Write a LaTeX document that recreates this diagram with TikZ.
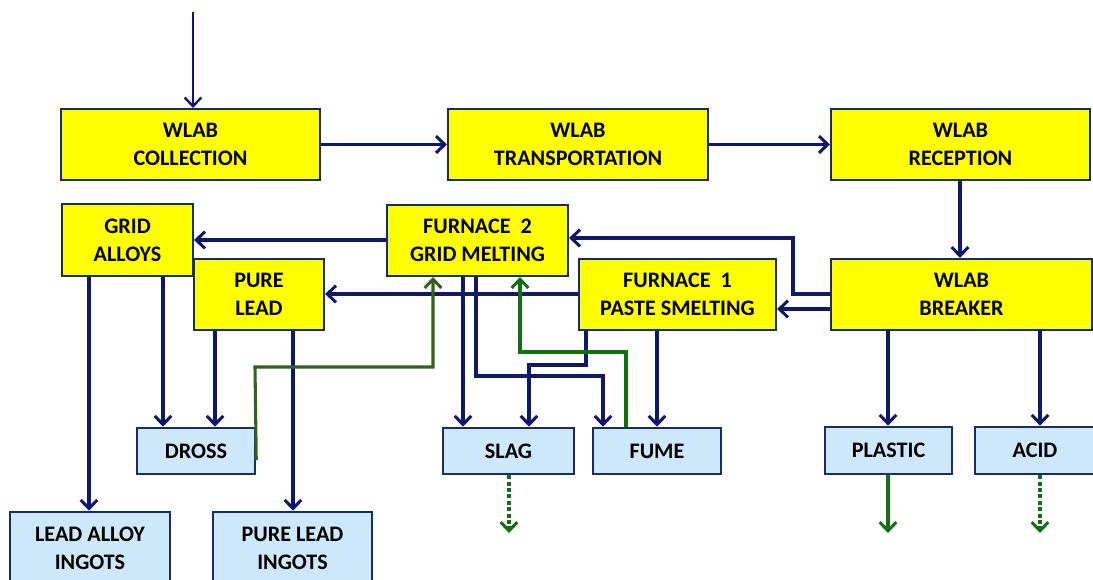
\documentclass[tikz,border=0pt]{standalone}
\usepackage{fontspec}
\setmainfont{Carlito}
\usetikzlibrary{arrows.meta}
\definecolor{navy}{RGB}{16,24,110}
\definecolor{bordr}{RGB}{25,45,100}
\definecolor{ylw}{RGB}{255,255,0}
\definecolor{lblue}{RGB}{204,232,250}
\definecolor{dgreen}{RGB}{55,95,30}
\definecolor{mgreen}{RGB}{20,110,20}
\begin{document}
\begin{tikzpicture}[x=0.75pt,y=-0.75pt,
  box/.style n args={2}{minimum width=#1*0.75pt, minimum height=#2*0.75pt,
    inner sep=0pt, align=center, font=\fontsize{16.6}{21}\selectfont\bfseries,
    draw=bordr, line width=1.6pt},
  ybox/.style n args={2}{box={#1}{#2}, fill=ylw},
  bbox/.style n args={2}{box={#1}{#2}, fill=lblue, line width=1.9pt},
  tip/.style={-{Straight Barb[length=6.5pt,width=12.5pt]}},
  flow/.style={draw=navy, line width=2.3pt, tip},
  gflow/.style={draw=mgreen, line width=2.3pt, tip},
  dgflow/.style={draw=dgreen, line width=2.3pt, tip},
  gdot/.style={draw=mgreen, line width=2.3pt, dash pattern=on 3pt off 1.8pt, tip}
]
\useasboundingbox (0,0) rectangle (1093,579);

% top row
\node[ybox={259}{71}] (col) at (190.5,144.5) {WLAB\\COLLECTION};
\node[ybox={260}{71}] (tra) at (578,144.5) {WLAB\\TRANSPORTATION};
\node[ybox={259}{71}] (rec) at (960.5,144.5) {WLAB\\RECEPTION};

% middle rows
\node[ybox={131}{72}] (ga) at (127.5,240) {GRID\\ALLOYS};
\node[ybox={130}{71}] (pl) at (259,294.5) {PURE\\LEAD};
\node[ybox={181}{71}] (f2) at (477.5,240.5) {FURNACE\ \ 2\\GRID MELTING};
\node[ybox={197}{71}] (f1) at (677.5,294.5) {FURNACE\ \ 1\\PASTE SMELTING};
\node[ybox={261}{71}] (br) at (961.5,294.5) {WLAB\\BREAKER};

% outputs
\node[bbox={118}{46}] (dross) at (196,451) {DROSS};
\node[bbox={131}{46}] (slag) at (508.5,451) {SLAG};
\node[bbox={128}{46}] (fume) at (657,451) {FUME};
\node[bbox={127}{47}] (plast) at (888.5,450.5) {PLASTIC};
\node[bbox={120}{47}] (acid) at (1035,450.5) {ACID};
\node[bbox={160}{72}] (lai) at (90,548) {LEAD ALLOY\\INGOTS};
\node[bbox={159}{72}] (pli) at (292.5,548) {PURE LEAD\\INGOTS};

% free ends
\coordinate (start) at (193,12);
\coordinate (slagout) at (509,533);
\coordinate (plastout) at (888,533);
\coordinate (acidout) at (1040,533);

% main chain
\draw[flow, line width=1.8pt] (start) -- (start |- col.north);
\draw[flow] (col.east) -- (tra.west);
\draw[flow] (tra.east) -- (rec.west);
\draw[flow] (rec.south -| 960,0) -- (br.north -| 960,0);

% breaker outputs
\draw[flow] (br.west |- 0,309) -- (f1.east |- 0,309);
\draw[flow] (br.west |- 0,294) -- (793,294) -- (793,238) -- (f2.east |- 0,238);
\draw[flow] (br.south -| 888,0) -- (plast.north -| 888,0);
\draw[flow] (br.south -| 1040,0) -- (acid.north -| 1040,0);

% furnace outputs
\draw[flow] (f2.west |- 0,240) -- (ga.east |- 0,240);
\draw[flow] (f1.west |- 0,294) -- (pl.east |- 0,294);
\draw[flow] (f2.south -| 463,0) -- (slag.north -| 463,0);
\draw[flow] (f2.south -| 476,0) -- (476,376) -- (603,376) -- (fume.north -| 603,0);
\draw[flow] (f1.south -| 586,0) -- (586,365) -- (529,365) -- (slag.north -| 529,0);
\draw[flow] (f1.south -| 657,0) -- (fume.north -| 657,0);

% alloys and lead
\draw[flow] (ga.south -| 89,0) -- (lai.north -| 89,0);
\draw[flow] (ga.south -| 163,0) -- (dross.north -| 163,0);
\draw[flow] (pl.south -| 215,0) -- (dross.north -| 215,0);
\draw[flow] (pl.south -| 293,0) -- (pli.north -| 293,0);

% recycling (green)
\draw[dgflow] (dross.east |- 0,460) -- (255,367) -- (433,367) -- (f2.south -| 433,0);
\draw[gflow] (fume.north -| 626,0) -- (626,352) -- (520,352) -- (f2.south -| 520,0);

% final outputs
\draw[gdot] (slag.south -| 509,0) -- (slagout);
\draw[gflow] (plast.south -| 888,0) -- (plastout);
\draw[gdot] (acid.south -| 1040,0) -- (acidout);
\end{tikzpicture}
\end{document}
